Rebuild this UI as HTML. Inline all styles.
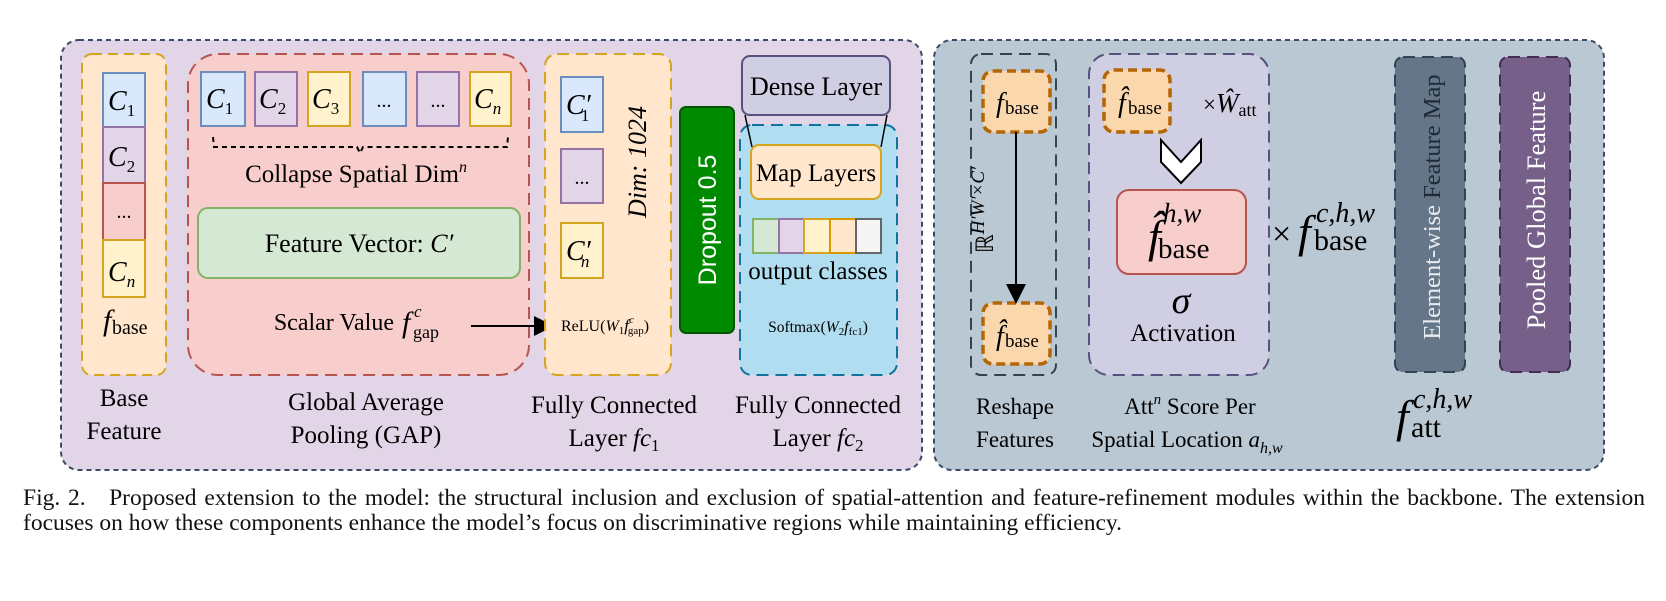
<!DOCTYPE html>
<html><head><meta charset="utf-8"><style>
body{margin:0;background:#fff;}
svg{display:block;font-family:"Liberation Serif",serif;}
.cap{position:absolute;left:23px;top:486px;width:1622px;font:23.5px/25px "Liberation Serif",serif;color:#111;}
.l1{text-align:justify;text-align-last:justify;}
</style></head><body>
<div style="position:relative;width:1666px;height:601px;overflow:hidden">
<svg width="1666" height="601" viewBox="0 0 1666 601">
<defs><marker id="ah" markerWidth="10" markerHeight="10" refX="8" refY="5" orient="auto"><path d="M0,0 L10,5 L0,10 z" fill="#000"/></marker></defs>
<rect x="61" y="40" width="861" height="430" rx="18" fill="#e1d5e7" stroke="#3b4a66" stroke-width="2" stroke-dasharray="5,4"/>
<rect x="934" y="40" width="670" height="430" rx="18" fill="#bac8d3" stroke="#3b4a66" stroke-width="2" stroke-dasharray="5,4"/>

<rect x="82" y="54" width="84" height="321" rx="10" fill="#ffe6cc" stroke="#d6a520" stroke-width="2" stroke-dasharray="10,6"/>
<rect x="103" y="73" width="42" height="54" fill="#dae8fc" stroke="#6c8ebf" stroke-width="2"/>
<rect x="103" y="127" width="42" height="56" fill="#e1d5e7" stroke="#9673a6" stroke-width="2"/>
<rect x="103" y="183" width="42" height="57" fill="#f8cecc" stroke="#b85450" stroke-width="2"/>
<rect x="103" y="240" width="42" height="57" fill="#fff2cc" stroke="#d6a520" stroke-width="2"/>
<g font-size="28" font-style="italic">
<text x="108" y="110">C<tspan font-size="17" font-style="normal" dy="6">1</tspan></text>
<text x="108" y="166">C<tspan font-size="17" font-style="normal" dy="6">2</tspan></text>
<text x="108" y="281">C<tspan font-size="17" dy="6">n</tspan></text>
</g>
<text x="124" y="218" font-size="20" text-anchor="middle">...</text>
<text x="103" y="330" font-size="30" font-style="italic">f</text>
<text x="112" y="334" font-size="20">base</text>

<rect x="188" y="54" width="341" height="321" rx="30" fill="#f8cecc" stroke="#b85450" stroke-width="2" stroke-dasharray="12,7"/>
<rect x="201" y="72" width="44" height="54" fill="#dae8fc" stroke="#6c8ebf" stroke-width="2"/>
<rect x="255" y="72" width="42" height="54" fill="#e1d5e7" stroke="#9673a6" stroke-width="2"/>
<rect x="308" y="72" width="42" height="54" fill="#fff2cc" stroke="#d6a520" stroke-width="2"/>
<rect x="363" y="72" width="43" height="54" fill="#dae8fc" stroke="#6c8ebf" stroke-width="2"/>
<rect x="417" y="72" width="42" height="54" fill="#e1d5e7" stroke="#9673a6" stroke-width="2"/>
<rect x="470" y="72" width="41" height="54" fill="#fff2cc" stroke="#d6a520" stroke-width="2"/>
<g font-size="28" font-style="italic">
<text x="206" y="108">C<tspan font-size="17" font-style="normal" dy="6">1</tspan></text>
<text x="259" y="108">C<tspan font-size="17" font-style="normal" dy="6">2</tspan></text>
<text x="312" y="108">C<tspan font-size="17" font-style="normal" dy="6">3</tspan></text>
<text x="474" y="108">C<tspan font-size="17" dy="6">n</tspan></text>
</g>
<text x="384" y="107" font-size="20" text-anchor="middle">...</text>
<text x="438" y="107" font-size="20" text-anchor="middle">...</text>
<path d="M213,137 L214,147 L357,147 L360,153 L363,147 L507,147 L508,137" fill="none" stroke="#000" stroke-width="2" stroke-dasharray="5,4"/>
<text x="356" y="182" font-size="25" text-anchor="middle">Collapse Spatial Dim<tspan font-size="16" font-style="italic" dy="-10">n</tspan></text>
<rect x="198" y="208" width="322" height="70" rx="10" fill="#d5e8d4" stroke="#82b366" stroke-width="2"/>
<text x="359" y="252" font-size="26" text-anchor="middle">Feature Vector: <tspan font-style="italic">C′</tspan></text>
<text x="394" y="330" font-size="24" text-anchor="end">Scalar Value</text>
<text x="402" y="332" font-size="30" font-style="italic">f</text>
<text x="414" y="317" font-size="17" font-style="italic">c</text>
<text x="413" y="338" font-size="18">gap</text>
<line x1="471" y1="326" x2="550" y2="326" stroke="#000" stroke-width="2" marker-end="url(#ah)"/>

<rect x="545" y="54" width="126" height="321" rx="12" fill="#ffe6cc" stroke="#d6a520" stroke-width="2" stroke-dasharray="12,7"/>
<rect x="561" y="77" width="42" height="55" fill="#dae8fc" stroke="#6c8ebf" stroke-width="2"/>
<rect x="561" y="149" width="42" height="54" fill="#e1d5e7" stroke="#9673a6" stroke-width="2"/>
<rect x="561" y="223" width="42" height="55" fill="#fff2cc" stroke="#d6a520" stroke-width="2"/>
<g font-size="28" font-style="italic">
<text x="566" y="114">C′<tspan font-size="17" font-style="normal" dx="-10" dy="7">1</tspan></text>
<text x="566" y="260">C′<tspan font-size="17" dx="-10" dy="7">n</tspan></text>
</g>
<text x="582" y="184" font-size="20" text-anchor="middle">...</text>
<text transform="translate(646,162) rotate(-90)" font-size="26" font-style="italic" text-anchor="middle">Dim: 1024</text>
<text x="561" y="331" font-size="16">ReLU(<tspan font-style="italic">W</tspan><tspan font-size="11" dy="3">1</tspan><tspan font-style="italic" font-size="17" dy="-3">f</tspan><tspan font-size="11" font-style="italic" dy="-8">c</tspan><tspan font-size="11" dx="-6" dy="11">gap</tspan><tspan dy="-3">)</tspan></text>

<rect x="680" y="107" width="54" height="226" rx="6" fill="#008a00" stroke="#005700" stroke-width="2"/>
<text transform="translate(716,220) rotate(-90)" font-family="Liberation Sans,sans-serif" font-size="25" fill="#fff" text-anchor="middle">Dropout 0.5</text>

<rect x="740" y="125" width="157" height="250" rx="12" fill="#b1ddf0" stroke="#10739e" stroke-width="2" stroke-dasharray="12,7"/>
<rect x="742" y="56" width="148" height="59" rx="8" fill="#d0cee2" stroke="#56517e" stroke-width="2"/>
<text x="816" y="95" font-size="26" text-anchor="middle">Dense Layer</text>
<line x1="745" y1="115" x2="752" y2="147" stroke="#000" stroke-width="1.5"/>
<line x1="887" y1="115" x2="881" y2="147" stroke="#000" stroke-width="1.5"/>
<rect x="751" y="145" width="130" height="54" rx="8" fill="#ffe6cc" stroke="#d6a520" stroke-width="2"/>
<text x="816" y="181" font-size="25" text-anchor="middle">Map Layers</text>
<rect x="753" y="219" width="26" height="34" fill="#d5e8d4" stroke="#82b366" stroke-width="2"/>
<rect x="779" y="219" width="25" height="34" fill="#e1d5e7" stroke="#9673a6" stroke-width="2"/>
<rect x="804" y="219" width="26" height="34" fill="#fff2cc" stroke="#d6a520" stroke-width="2"/>
<rect x="830" y="219" width="26" height="34" fill="#ffe6cc" stroke="#d79b00" stroke-width="2"/>
<rect x="856" y="219" width="25" height="34" fill="#f5f5f5" stroke="#666" stroke-width="2"/>
<text x="818" y="279" font-size="25" text-anchor="middle">output classes</text>
<text x="818" y="332" font-size="15.5" text-anchor="middle">Softmax(<tspan font-style="italic">W</tspan><tspan font-size="11" dy="3">2</tspan><tspan font-style="italic" font-size="16" dy="-3">f</tspan><tspan font-size="11" dy="3">fc1</tspan><tspan dy="-3">)</tspan></text>

<g font-size="25" text-anchor="middle">
<text x="124" y="406">Base</text><text x="124" y="439">Feature</text>
<text x="366" y="410">Global Average</text><text x="366" y="443">Pooling (GAP)</text>
<text x="614" y="413">Fully Connected</text><text x="614" y="446">Layer <tspan font-style="italic">fc</tspan><tspan font-size="17" dy="5">1</tspan></text>
<text x="818" y="413">Fully Connected</text><text x="818" y="446">Layer <tspan font-style="italic">fc</tspan><tspan font-size="17" dy="5">2</tspan></text>
</g>

<rect x="971" y="54" width="85" height="321" rx="10" fill="none" stroke="#314354" stroke-width="2" stroke-dasharray="12,7"/>
<rect x="983" y="71" width="67" height="61" rx="10" fill="#fad7ac" stroke="#b46504" stroke-width="3.5" stroke-dasharray="9,5"/>
<rect x="983" y="303" width="67" height="61" rx="10" fill="#fad7ac" stroke="#b46504" stroke-width="3.5" stroke-dasharray="9,5"/>
<text x="996" y="112" font-size="28" font-style="italic">f</text><text x="1005" y="114" font-size="19">base</text>
<text x="996" y="345" font-size="28" font-style="italic">f̂</text><text x="1005" y="347" font-size="19">base</text>
<line x1="1016" y1="132" x2="1016" y2="300" stroke="#000" stroke-width="2" marker-end="url(#ah)"/>
<text transform="translate(993,210) rotate(-90)" font-size="24" text-anchor="middle">ℝ<tspan font-style="italic" font-size="19" dy="-9">H′W′×C′</tspan></text>

<rect x="1089" y="54" width="180" height="321" rx="20" fill="#d0cee2" stroke="#56517e" stroke-width="2" stroke-dasharray="12,7"/>
<rect x="1104" y="70" width="66" height="62" rx="10" fill="#fad7ac" stroke="#b46504" stroke-width="3.5" stroke-dasharray="9,5"/>
<text x="1118" y="112" font-size="28" font-style="italic">f̂</text><text x="1128" y="114" font-size="19">base</text>
<text x="1203" y="112" font-size="23">×<tspan font-style="italic" font-size="27">Ŵ</tspan><tspan font-size="18" dy="4">att</tspan></text>
<path d="M1161,140 L1181,162 L1201,140 L1201,162 L1181,183 L1161,162 Z" fill="#fff" stroke="#000" stroke-width="2"/>
<rect x="1117" y="190" width="129" height="84" rx="12" fill="#f8cecc" stroke="#b85450" stroke-width="2"/>
<text x="1148" y="252" font-size="46" font-style="italic">f̂</text>
<text x="1163" y="222" font-size="27" font-style="italic">h,w</text>
<text x="1158" y="258" font-size="29">base</text>
<text x="1181" y="313" font-size="38" font-style="italic" text-anchor="middle">σ</text>
<text x="1183" y="341" font-size="25" text-anchor="middle">Activation</text>
<text x="1272" y="245" font-size="34">×</text>
<text x="1298" y="247" font-size="46" font-style="italic">f</text>
<text x="1316" y="222" font-size="28" font-style="italic">c,h,w</text>
<text x="1314" y="250" font-size="30">base</text>

<rect x="1395" y="57" width="70" height="315" rx="8" fill="#647687" stroke="#314354" stroke-width="2" stroke-dasharray="12,7"/>
<rect x="1500" y="57" width="70" height="315" rx="8" fill="#76608a" stroke="#432d57" stroke-width="2" stroke-dasharray="12,7"/>
<text transform="translate(1440,207) rotate(-90)" font-size="24.5" fill="#e8ecf2" text-anchor="middle">Element-wise <tspan fill="#1f2a36">Feature Map</tspan></text>
<text transform="translate(1545,210) rotate(-90)" font-size="26.5" fill="#fff" text-anchor="middle">Pooled Global Feature</text>

<g font-size="23" text-anchor="middle">
<text x="1015" y="414">Reshape</text><text x="1015" y="447">Features</text>
<text x="1190" y="414">Att<tspan font-size="15" font-style="italic" dy="-10">n</tspan><tspan dy="10"> Score Per</tspan></text>
<text x="1187" y="447">Spatial Location <tspan font-style="italic">a</tspan><tspan font-size="16" font-style="italic" dy="6">h,w</tspan></text>
</g>
<text x="1396" y="432" font-size="46" font-style="italic">f</text>
<text x="1413" y="408" font-size="28" font-style="italic">c,h,w</text>
<text x="1411" y="437" font-size="30">att</text>
</svg>
<div class="cap"><div class="l1">Fig. 2.&nbsp;&nbsp; Proposed extension to the model: the structural inclusion and exclusion of spatial-attention and feature-refinement modules within the backbone. The extension</div><div>focuses on how these components enhance the model’s focus on discriminative regions while maintaining efficiency.</div></div>
</div>
</body></html>
